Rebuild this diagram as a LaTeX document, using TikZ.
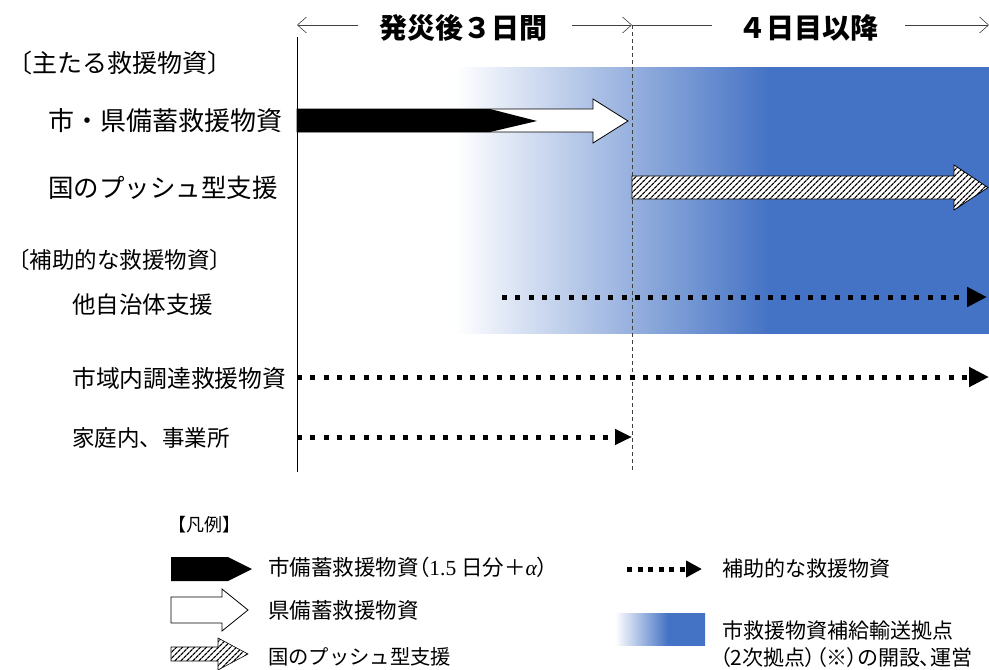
\documentclass[tikz,border=0pt]{standalone}
\usepackage{fontspec}
\setmainfont{Noto Sans CJK JP}
\newfontfamily\serifnum{Liberation Serif}
\usetikzlibrary{arrows.meta,patterns.meta}
\definecolor{bl}{HTML}{4472C4}
\definecolor{ln}{HTML}{404040}
\pgfdeclarehorizontalshading{bandshade}{100bp}{color(0bp)=(white); color(25bp)=(white); color(54.5bp)=(bl); color(100bp)=(bl)}
\begin{document}
\begin{tikzpicture}[x=1pt,y=-1pt,
  lbl/.style={anchor=west,inner sep=0pt,text=black},
  head/.style={inner sep=0pt,font=\fontsize{28}{30}\selectfont\bfseries},
  toparrow/.style={draw=ln,line width=0.6pt,-{Straight Barb[length=9pt,width=16pt,line width=0.6pt]}},
  dotarrow/.style={line width=5pt,dash pattern=on 5pt off 8.3pt,-{Triangle[length=20pt,width=19pt]}},
  hatch/.style={draw=black,line width=0.8pt,preaction={fill=white},pattern={Lines[angle=45,distance=4pt,line width=1.3pt]}},
  prop/.style={font=\fontsize{#1}{#1}\selectfont\addfontfeatures{RawFeature=+palt}},
]
\useasboundingbox (0,0) rectangle (989,670);
% background gradient band
\shade[shading=bandshade] (455,67) rectangle (989,333);

% axis lines
\coordinate (vtop) at (297,37);
\coordinate (vbot) at (297,472);
\draw[line width=0.9pt] (vtop) -- (vbot);
\coordinate (dtop) at (632,25);
\coordinate (dbot) at (632,472);
\draw[ln,line width=0.9pt,dash pattern=on 4pt off 3pt] (dtop) -- (dbot);

% top headings
\node[head] (h1) at (463,28) {発災後３日間};
\node[head] (h2) at (808,28) {４日目以降};
\coordinate (a1l) at (297,25);
\coordinate (a1s) at (358,25);
\coordinate (a2s) at (572,25);
\coordinate (a2e) at (632,25);
\coordinate (a3s) at (712,25);
\coordinate (a4s) at (905,25);
\coordinate (a4e) at (989,25);
\draw[toparrow] (a1s) -- (a1l);
\draw[toparrow] (a2s) -- (a2e);
\draw[draw=ln,line width=0.6pt] (a2e) -- (a3s);
\draw[toparrow] (a4s) -- (a4e);

% left labels
\node[lbl,font=\fontsize{25}{26}\selectfont] (t1) at (7,63) {〔主たる救援物資〕};
\node[lbl,font=\fontsize{26}{28}\selectfont] (t2) at (48,121) {市・県備蓄救援物資};
\node[lbl,font=\fontsize{25.5}{28}\selectfont] (t3) at (48,188) {国のプッシュ型支援};
\node[lbl,font=\fontsize{22.5}{24}\selectfont] (t4) at (7,260) {〔補助的な救援物資〕};
\node[lbl,font=\fontsize{23.5}{25}\selectfont] (t5) at (72,305) {他自治体支援};
\node[lbl,font=\fontsize{23.8}{25}\selectfont] (t6) at (72,378) {市域内調達救援物資};
\node[lbl,font=\fontsize{22.5}{25}\selectfont] (t7) at (72,438) {家庭内、事業所};

% white (prefecture) arrow + black (city) arrow
\draw[fill=white,line width=0.8pt] (297,109) -- (593,109) -- (593,99) -- (628,121) -- (593,143) -- (593,132) -- (297,132) -- cycle;
\fill[black] (297,109) -- (490,109) -- (537,121) -- (490,132) -- (297,132) -- cycle;

% hatched (national push) arrow
\draw[hatch] (632,176) -- (954,176) -- (954,165) -- (988,187.5) -- (954,210) -- (954,199) -- (632,199) -- cycle;

% dotted arrows
\coordinate (r1s) at (502,297); \coordinate (r1e) at (987,297);
\coordinate (r2s) at (297,377); \coordinate (r2e) at (989,377);
\coordinate (r3s) at (297,437); \coordinate (r3e) at (632,437);
\draw[dotarrow] (r1s) -- (r1e);
\draw[dotarrow] (r2s) -- (r2e);
\draw[dotarrow,-{Triangle[length=17pt,width=15pt]}] (r3s) -- (r3e);

% legend
\node[lbl,font=\fontsize{18}{20}\selectfont] (lg) at (168,525) {【凡例】};
\fill[black] (171,557) -- (228,557) -- (252,569) -- (228,581) -- (171,581) -- cycle;
\node[lbl,prop=21.5] (l1) at (268,567) {市備蓄救援物資（{\serifnum 1.5} 日分＋{\serifnum\itshape α}）};
\draw[fill=white,line width=0.8pt] (171,597) -- (222,597) -- (222,589) -- (248,610) -- (222,631) -- (222,623) -- (171,623) -- cycle;
\node[lbl,font=\fontsize{21.5}{22}\selectfont] (l2) at (268,610) {県備蓄救援物資};
\draw[hatch,line width=0.6pt] (171,647) -- (218,647) -- (218,638) -- (248,654) -- (218,670) -- (218,661) -- (171,661) -- cycle;
\node[lbl,font=\fontsize{20.3}{22}\selectfont] (l3) at (268,657) {国のプッシュ型支援};

\coordinate (ld1) at (627,569); \coordinate (ld2) at (702,569);
\draw[line width=5pt,dash pattern=on 5pt off 5.5pt,-{Triangle[length=16pt,width=16pt]}] (ld1) -- (ld2);
\node[lbl,font=\fontsize{21}{22}\selectfont] (l4) at (722,569) {補助的な救援物資};
\shade[shading=bandshade] (615,613) rectangle (705,645);
\node[lbl,font=\fontsize{21}{22}\selectfont] (l5) at (722,630) {市救援物資補給輸送拠点};
\node[lbl,prop=21] (l6) at (720,658) {（2次拠点）（※）の開設、運営};
\end{tikzpicture}
\end{document}
